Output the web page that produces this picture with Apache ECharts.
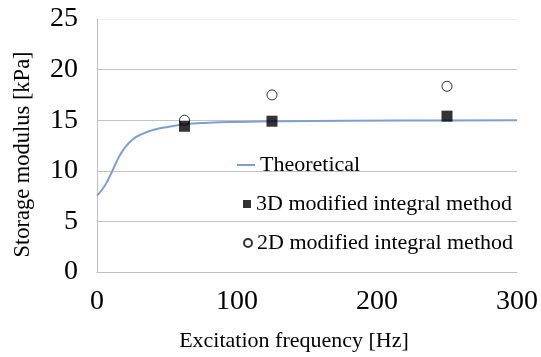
<!DOCTYPE html>
<html>
<head>
<meta charset="utf-8">
<script src="https://cdn.jsdelivr.net/npm/echarts@6/dist/echarts.min.js"></script>
<style>
html,body{margin:0;padding:0;background:#fff;}
#chart{width:541px;height:357px;}
</style>
</head>
<body>
<div id="chart"></div>
<script>
// Theoretical curve
const freqTheory = [0, 4, 7.5, 11, 14.7, 18.2, 25, 32.5, 42, 51.5, 62.5, 80, 100, 130, 180, 250, 300];
const storageTheory = [7.55, 8.2, 9.0, 10.0, 11.1, 11.95, 13.05, 13.65, 14.1, 14.35, 14.6, 14.75, 14.83, 14.9, 14.95, 14.98, 15.0];
// Measured points
const freqPoints = [62.5, 125, 250];
const storage3D = [14.4, 14.9, 15.4];
const storage2D = [15.0, 17.5, 18.35];
// Labels
const seriesNames = ['Theoretical', '3D modified integral method', '2D modified integral method'];
const xAxisName = 'Excitation frequency [Hz]';
const yAxisName = 'Storage modulus [kPa]';

const FONT = '"Liberation Serif", "Times New Roman", serif';
const zip = (xs, ys) => xs.map((x, i) => [x, ys[i]]);
const legendText = {fontFamily: FONT, fontSize: 22, color: '#000'};

const chart = echarts.init(document.getElementById('chart'), null, {renderer: 'canvas'});
chart.setOption({
  animation: false,
  backgroundColor: '#fff',
  textStyle: {fontFamily: FONT, color: '#000'},
  grid: {left: 97, right: 22, top: 19, bottom: 84, containLabel: false},
  xAxis: {
    type: 'value', min: 0, max: 300, interval: 100,
    name: xAxisName, nameLocation: 'middle', nameGap: 58,
    nameTextStyle: {fontFamily: FONT, fontSize: 22, color: '#000', padding: [0, 26, 0, 0]},
    axisLine: {show: true, lineStyle: {color: '#bfbfbf', width: 1}},
    axisTick: {show: false},
    splitLine: {show: false},
    axisLabel: {fontFamily: FONT, fontSize: 28, color: '#000', margin: 16}
  },
  yAxis: {
    type: 'value', min: 0, max: 25, interval: 5,
    name: yAxisName, nameLocation: 'middle', nameGap: 62, nameRotate: 90,
    nameTextStyle: {fontFamily: FONT, fontSize: 22.5, color: '#000', padding: [0, 18, 0, 0]},
    axisLine: {show: true, lineStyle: {color: '#bfbfbf', width: 1}},
    axisTick: {show: false},
    splitLine: {show: true, lineStyle: {color: ['#c4c4c4','#c4c4c4','#c4c4c4','#c4c4c4','#c4c4c4','#efefef'], width: 1}},
    axisLabel: {fontFamily: FONT, fontSize: 28, color: '#000', margin: 19}
  },
  legend: [
    {data: [{name: seriesNames[0], icon: 'rect'}], left: 232, top: 149, itemWidth: 18, itemHeight: 2,
     textStyle: legendText},
    {data: [seriesNames[1]], left: 238, top: 188, itemWidth: 8, itemHeight: 8,
     textStyle: legendText},
    {data: [seriesNames[2]], left: 238, top: 227, itemWidth: 8, itemHeight: 8,
     textStyle: legendText}
  ],
  series: [
    {
      name: seriesNames[0], type: 'line', smooth: true, showSymbol: false, symbol: 'none',
      data: zip(freqTheory, storageTheory),
      lineStyle: {color: '#7f9fd3', width: 2},
      itemStyle: {color: '#7f9fd3'}, z: 2
    },
    {
      name: seriesNames[2], type: 'scatter', symbol: 'circle', symbolSize: 10,
      data: zip(freqPoints, storage2D),
      itemStyle: {color: '#fff', borderColor: '#000', borderWidth: 1}, z: 3
    },
    {
      name: seriesNames[1], type: 'scatter', symbol: 'rect', symbolSize: 11,
      data: zip(freqPoints, storage3D),
      itemStyle: {color: '#000'}, z: 4
    }
  ]
});
</script>
</body>
</html>
